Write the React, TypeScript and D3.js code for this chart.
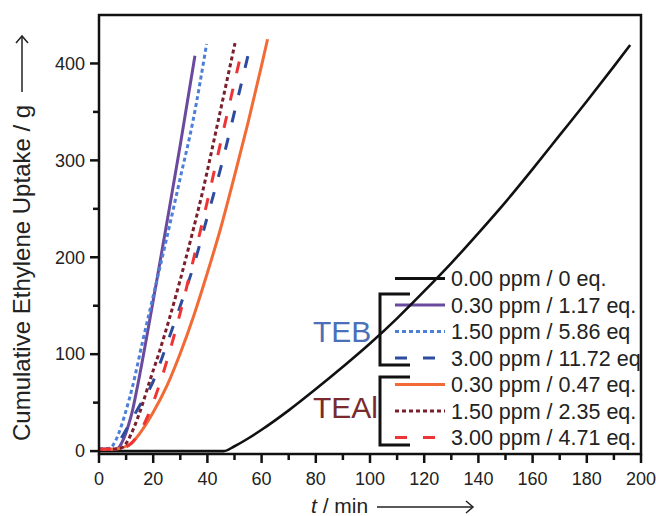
import * as d3 from "d3";

// minutes vs grams
const noCocat: [number, number][] = [
  [0, 0], [46, 0], [50, 5], [55, 13], [60, 22], [70, 42], [80, 64], [90, 87], [100, 111],
  [110, 137], [120, 165], [130, 194], [140, 225], [150, 257], [160, 291], [170, 326],
  [180, 361], [190, 397], [196, 419],
];
const teb030: [number, number][] = [
  [0, 2], [5, 2], [7, 3], [9, 12], [11, 28], [12.2, 40], [14, 64], [18, 124], [22, 187],
  [26, 251], [30, 316], [35.4, 408],
];
const teb150: [number, number][] = [
  [0, 2], [4, 3], [6, 10], [8, 24], [10, 42], [12.5, 68], [16, 112], [20, 160], [25, 220],
  [30, 282], [34.7, 341], [39.7, 420],
];
const teb300: [number, number][] = [
  [0, 2], [5, 2], [7, 8], [10, 22], [14, 42], [20, 72], [25, 110], [30, 150], [35, 192],
  [40, 242], [45, 293], [50, 350], [55.4, 413],
];
const teal030: [number, number][] = [
  [0, 2], [5, 2], [8, 3], [10, 5], [12, 8], [15, 18], [20, 40], [25, 67], [30, 101],
  [35, 140], [40, 184], [45, 231], [50, 284], [55, 339], [60, 398], [62.2, 425],
];
const teal150: [number, number][] = [
  [0, 2], [5, 2], [8, 3], [10, 8], [13, 25], [16, 48], [18.8, 73], [22, 100], [26, 137],
  [30, 177], [34, 220], [38, 265], [44, 341], [50.2, 421],
];
const teal300: [number, number][] = [
  [0, 2], [5, 2], [8, 3], [11, 6], [14, 15], [18, 36], [22, 66], [26, 102], [30, 143],
  [34, 188], [40, 258], [46, 332], [52, 405],
];

const seriesData = [noCocat, teb030, teb150, teb300, teal030, teal150, teal300];
const seriesColors = ["#111111", "#6a4a9e", "#4d7fd6", "#2d4c9f", "#f26a35", "#7a1f2c", "#ee3434"];
const seriesDash = ["", "", "4,3", "12,16", "", "4,3", "12,16"];
const legendLabels = [
  "0.00 ppm / 0 eq.",
  "0.30 ppm / 1.17 eq.",
  "1.50 ppm / 5.86 eq",
  "3.00 ppm / 11.72 eq",
  "0.30 ppm / 0.47 eq.",
  "1.50 ppm / 2.35 eq.",
  "3.00 ppm / 4.71 eq.",
];

const xMajor = d3.range(0, 201, 20);
const xMinor = d3.range(10, 200, 20);
const yMajor = [0, 100, 200, 300, 400];
const yMinor = [50, 150, 250, 350];

const W = 656;
const H = 516;
const FONT = "'Liberation Sans', Arial, sans-serif";

export default function App() {
  const x = d3.scaleLinear().domain([0, 200]).range([99, 641]);
  const y = d3.scaleLinear().domain([-3, 450]).range([454, 15]);
  const [x0, x1] = x.range();
  const [y0, y1] = y.range();

  const line = d3
    .line<[number, number]>()
    .x((d) => x(d[0]))
    .y((d) => y(d[1]))
    .curve(d3.curveMonotoneX);

  const legendY = (i: number) => 278.5 + i * 26.5;

  return (
    <svg
      width={W}
      height={H}
      style={{ position: "absolute", left: 0, top: 0, background: "#fff" }}
      fontFamily={FONT}
    >
      {/* legend */}
      <g>
        {legendLabels.map((lab, i) => (
          <g key={lab}>
            <line
              x1={395}
              x2={445}
              y1={legendY(i)}
              y2={legendY(i)}
              stroke={seriesColors[i]}
              strokeWidth={3}
              strokeDasharray={seriesDash[i]}
            />
            <text x={451} y={legendY(i)} dy="0.36em" fontSize={21.5} fill="#222">
              {lab}
            </text>
          </g>
        ))}
        <path d="M410,294H380V365H410" fill="none" stroke="#111" strokeWidth={3} />
        <path d="M410,377H380V445H410" fill="none" stroke="#111" strokeWidth={3} />
        <text x={313} y={342} fontSize={30} fill="#4a70b8">TEB</text>
        <text x={313} y={418} fontSize={30} fill="#7a2a2e">TEAl</text>
      </g>

      {/* curves */}
      <g fill="none">
        {seriesData.map((s, i) => (
          <path
            key={i}
            d={line(s) ?? ""}
            stroke={seriesColors[i]}
            strokeDasharray={seriesDash[i]}
            strokeWidth={i === 0 ? 2.6 : 3}
          />
        ))}
      </g>

      {/* frame */}
      <rect x={x0} y={y1} width={x1 - x0} height={y0 - y1} fill="none" stroke="#111" strokeWidth={2.5} />

      {/* ticks */}
      <g stroke="#111" strokeWidth={2.5}>
        {xMajor.map((t) => (
          <line key={"xM" + t} x1={x(t)} x2={x(t)} y1={y0} y2={y0 + 9} />
        ))}
        {xMinor.map((t) => (
          <line key={"xm" + t} x1={x(t)} x2={x(t)} y1={y0} y2={y0 + 6} />
        ))}
        {yMajor.map((t) => (
          <line key={"yM" + t} x1={x0} x2={x0 - 9} y1={y(t)} y2={y(t)} />
        ))}
        {yMinor.map((t) => (
          <line key={"ym" + t} x1={x0} x2={x0 - 6} y1={y(t)} y2={y(t)} />
        ))}
      </g>
      <g fontSize={18} fill="#222">
        {xMajor.map((t) => (
          <text key={"xl" + t} x={x(t)} y={485} textAnchor="middle">
            {t}
          </text>
        ))}
        {yMajor.map((t) => (
          <text key={"yl" + t} x={85} y={y(t)} dy="0.35em" textAnchor="end">
            {t}
          </text>
        ))}
      </g>

      {/* axis titles */}
      <text x={311} y={513} fontSize={21} fill="#222">
        <tspan fontStyle="italic">t</tspan> / min
      </text>
      <g stroke="#222" strokeWidth={1.5} fill="none">
        <line x1={377} x2={473} y1={507} y2={507} />
        <path d="M466,501L473,507L466,513" />
      </g>
      <text transform="translate(30,441) rotate(-90)" fontSize={24} fill="#222">
        Cumulative Ethylene Uptake / g
      </text>
      <g stroke="#222" strokeWidth={1.5} fill="none">
        <line x1={22} x2={22} y1={92} y2={36} />
        <path d="M16,43L22,36L28,43" />
      </g>
    </svg>
  );
}
